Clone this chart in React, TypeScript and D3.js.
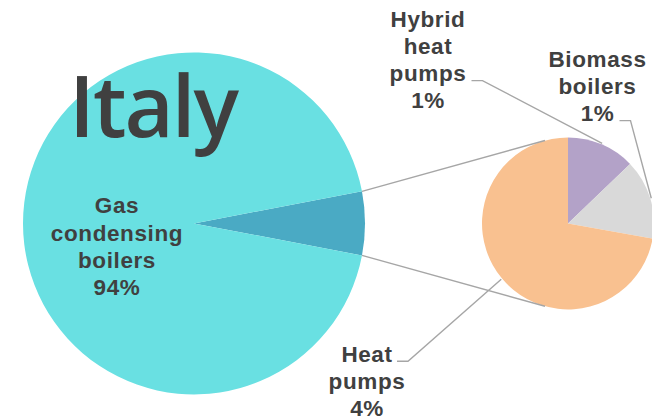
import * as d3 from "d3";

const width = 652;
const height = 418;

const title = "Italy";
const mainLabels = ["Other", "Gas condensing boilers"];
const mainValues = [6, 94];
const subLabels = ["Hybrid heat pumps", "Biomass boilers", "Heat pumps"];
const subValues = [0.77, 0.9, 4.33];

const mainColors = ["#4aaac4", "#69e0e2"];
const subColors = ["#b3a2c8", "#d9d9d9", "#f9c190"];

const textColor = "#404040";
const lineColor = "#a6a6a6";
const pct = d3.format(".0%");

// layout
const big = { cx: 194, cy: 223.4, r: 171 };
const small = { cx: 568, cy: 223.4, r: 86 };
const lineH = 27.2;
// label centre x, first baseline, which line the leader hangs from, leader start x
const subLabelPos = [
  { x: 428, y: 26.7, row: 2, lx: 471.5 },
  { x: 597.5, y: 66.7, row: 2, lx: 619.5 },
  { x: 367, y: 361.7, row: 0, lx: 397 },
];

function tangent(p: number[], c: { cx: number; cy: number; r: number }, sign: number) {
  const dx = p[0] - c.cx;
  const dy = p[1] - c.cy;
  const d = Math.hypot(dx, dy);
  const t = Math.atan2(dy, dx) + sign * Math.acos(c.r / d);
  return [c.cx + c.r * Math.cos(t), c.cy + c.r * Math.sin(t)];
}

const polar = (c: { cx: number; cy: number }, r: number, a: number) => [
  c.cx + r * Math.sin(a),
  c.cy - r * Math.cos(a),
];

export default function App() {
  const otherAngle = (mainValues[0] / d3.sum(mainValues)) * 2 * Math.PI;
  const bigPie = d3
    .pie<number>()
    .sort(null)
    .startAngle(Math.PI / 2 - otherAngle / 2)
    .endAngle(Math.PI / 2 - otherAngle / 2 + 2 * Math.PI)(mainValues);
  const smallPie = d3.pie<number>().sort(null).startAngle(0).endAngle(2 * Math.PI)(subValues);

  const bigArc = d3.arc<d3.PieArcDatum<number>>().innerRadius(0).outerRadius(big.r);
  const smallArc = d3.arc<d3.PieArcDatum<number>>().innerRadius(0).outerRadius(small.r);

  const pUp = polar(big, big.r, bigPie[0].startAngle);
  const pDown = polar(big, big.r, bigPie[0].endAngle);
  const tUp = tangent(pUp, small, 1);
  const tDown = tangent(pDown, small, -1);

  const total = d3.sum(mainValues);
  const font = "'Liberation Sans', Arial, sans-serif";

  return (
    <svg
      width={width}
      height={height}
      style={{ position: "absolute", left: 0, top: 0, background: "#fff" }}
    >
      <g transform={`translate(${big.cx},${big.cy})`}>
        {bigPie.map((d, i) => (
          <path key={i} d={bigArc(d) || ""} fill={mainColors[i]} />
        ))}
      </g>
      <g transform={`translate(${small.cx},${small.cy})`}>
        {smallPie.map((d, i) => (
          <path key={i} d={smallArc(d) || ""} fill={subColors[i]} />
        ))}
      </g>
      <g stroke={lineColor} strokeWidth={1.4} fill="none">
        <line x1={pUp[0]} y1={pUp[1]} x2={tUp[0]} y2={tUp[1]} />
        <line x1={pDown[0]} y1={pDown[1]} x2={tDown[0]} y2={tDown[1]} />
        {smallPie.map((d, i) => {
          const pos = subLabelPos[i];
          const ly = pos.y + pos.row * lineH - 0.5;
          const end = polar(small, small.r + 1, (d.startAngle + d.endAngle) / 2);
          return (
            <polyline
              key={i}
              points={`${pos.lx},${ly} ${pos.lx + 11},${ly} ${end[0]},${end[1]}`}
            />
          );
        })}
      </g>
      <text
        x={69}
        y={136.5}
        fontFamily="'Open Sans', sans-serif"
        fontWeight={600}
        fontSize={85}
        letterSpacing={-2}
        fill={textColor}
      >
        {title}
      </text>
      <g fontFamily={font} fontWeight="bold" fontSize={22.5} letterSpacing={0.6} fill={textColor} textAnchor="middle">
        <text x={117} y={213.3}>
          {[...mainLabels[1].split(" "), pct(mainValues[1] / total)].map((t, j) => (
            <tspan key={j} x={117} y={213.3 + j * lineH}>
              {t}
            </tspan>
          ))}
        </text>
        {subLabels.map((lab, i) => {
          const pos = subLabelPos[i];
          const lines = [...lab.split(" "), pct(subValues[i] / total)];
          return (
            <text key={i} x={pos.x} y={pos.y}>
              {lines.map((t, j) => (
                <tspan key={j} x={pos.x} y={pos.y + j * lineH}>
                  {t}
                </tspan>
              ))}
            </text>
          );
        })}
      </g>
    </svg>
  );
}
